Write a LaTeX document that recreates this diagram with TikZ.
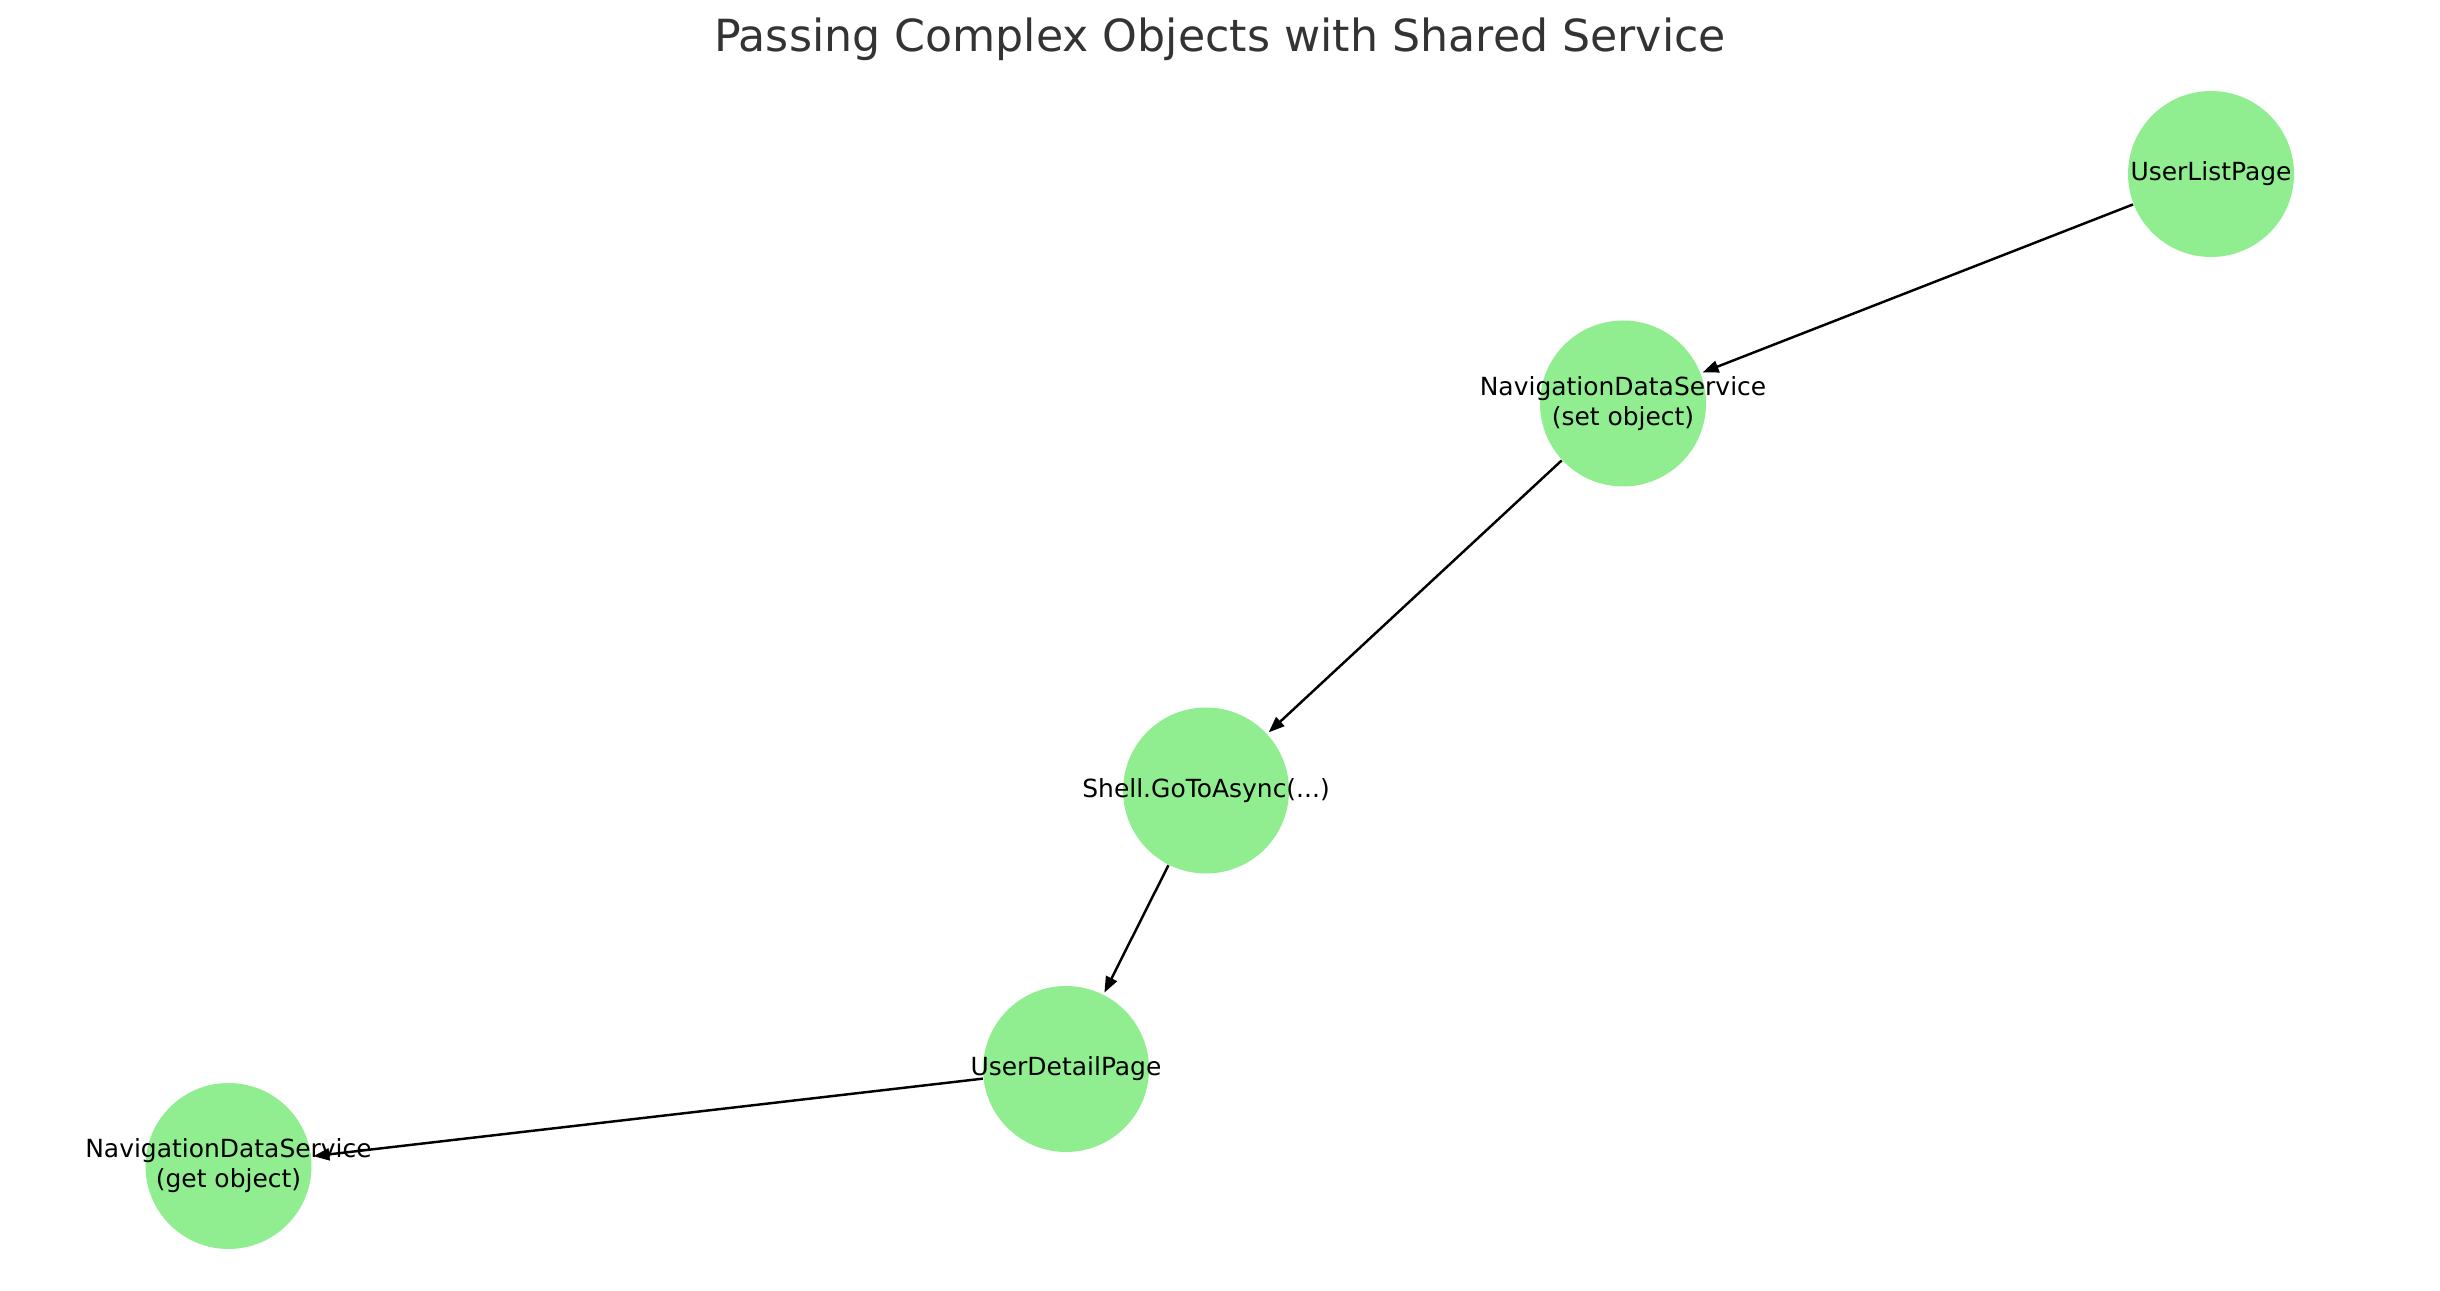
\documentclass[tikz,border=0pt]{standalone}
\usepackage{fontspec}
\setmainfont{DejaVu Sans}
\usetikzlibrary{arrows.meta}
\definecolor{nodegreen}{HTML}{90EE90}
\definecolor{titlegray}{HTML}{333333}

\begin{document}
\begin{tikzpicture}[
  vertex/.style={circle, fill=nodegreen, minimum size=1.66cm, inner sep=0pt},
  lbl/.style={align=center, font=\fontsize{7.1}{8.5}\selectfont},
  flow/.style={-{Triangle[length=1.6mm,width=1.2mm]}, line width=0.7pt, shorten >=0.5pt}]
\useasboundingbox (0,0) rectangle (24.4,12.9);
\node [titlegray, font=\fontsize{12.6}{14}\selectfont] (title) at (12.20,12.51) {Passing Complex Objects with Shared Service};
% nodes
\node [vertex] (ulp) at (22.11,11.16) {};
\node [vertex] (nset) at (16.23,8.865) {};
\node [vertex] (shell) at (12.06,4.995) {};
\node [vertex] (udp) at (10.66,2.21) {};
\node [vertex] (nget) at (2.285,1.24) {};
% edges
\draw [flow] (ulp) -- (nset);
\draw [flow] (nset) -- (shell);
\draw [flow] (shell) -- (udp);
\draw [flow] (udp) -- (nget);
% labels
\node [lbl] at (ulp) {UserListPage};
\node [lbl] at (nset) {NavigationDataService\\(set object)};
\node [lbl] at (shell) {Shell.GoToAsync(...)};
\node [lbl] at (udp) {UserDetailPage};
\node [lbl] at (nget) {NavigationDataService\\(get object)};
\end{tikzpicture}
\end{document}
